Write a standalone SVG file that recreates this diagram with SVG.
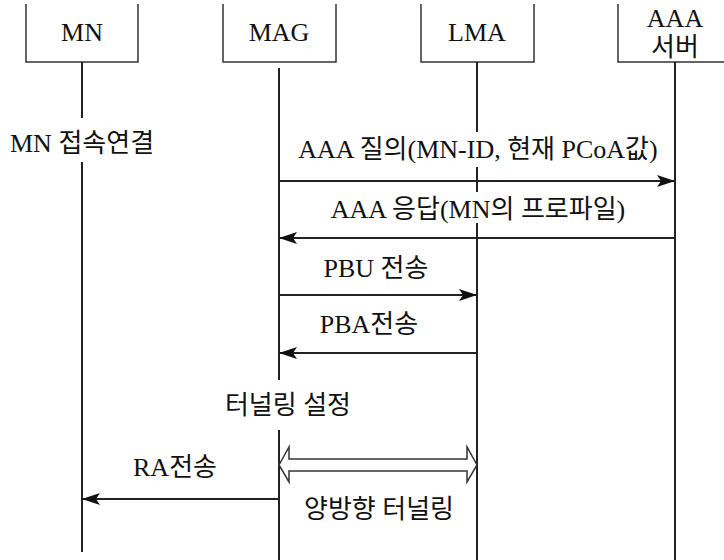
<svg xmlns="http://www.w3.org/2000/svg" width="724" height="560" viewBox="0 0 724 560">
<style>
text{font-family:"Liberation Serif","Noto Sans CJK KR",serif;font-size:26px;fill:#111}
.box{fill:none;stroke:#333;stroke-width:1.5}
.life{stroke:#222;stroke-width:2;fill:none}
.msg{stroke:#222;stroke-width:2;fill:none}
.hollow{fill:#fff;stroke:#333;stroke-width:1.5}
</style>
<defs>
<marker id="ah" viewBox="0 0 18 12" refX="18" refY="6" markerWidth="18" markerHeight="12" markerUnits="userSpaceOnUse" orient="auto">
<path d="M0 0 L18 6 L0 12 L4 6 Z" fill="#111"/>
</marker>
</defs>
<rect width="724" height="560" fill="#fff"/>
<g id="MN">
<path class="box" d="M26 4 V62 H138 V4"/>
<text x="82" y="41" text-anchor="middle" font-size="24">MN</text>
</g>
<g id="MAG">
<path class="box" d="M223 4 V62 H336 V4"/>
<text x="279" y="41" text-anchor="middle" font-size="24">MAG</text>
</g>
<g id="LMA">
<path class="box" d="M421 4 V62 H534 V4"/>
<text x="477" y="41" text-anchor="middle" font-size="24">LMA</text>
</g>
<g id="AAA">
<path class="box" d="M618 4 V62 H724"/>
<text x="675" y="27" text-anchor="middle" font-size="24">AAA</text>
<text x="675" y="56" text-anchor="middle" font-size="23">서버</text>
</g>
<g id="lifelines">
<path class="life" d="M82 62 V118 M82 162 V552"/>
<path class="life" d="M279 68 V380 M279 430 V560"/>
<path class="life" d="M477 62 V132 M477 167 V192 M477 223 V560"/>
<path class="life" d="M675 62 V560"/>
</g>
<g id="connectors">
<line class="msg" x1="279" y1="181" x2="675" y2="181" marker-end="url(#ah)"/>
<line class="msg" x1="675" y1="238" x2="279" y2="238" marker-end="url(#ah)"/>
<line class="msg" x1="279" y1="295" x2="477" y2="295" marker-end="url(#ah)"/>
<line class="msg" x1="477" y1="353" x2="279" y2="353" marker-end="url(#ah)"/>
<line class="msg" x1="279" y1="499" x2="82" y2="499" marker-end="url(#ah)"/>
<path class="hollow" d="M279 465 L289 447 L289 459 L467 459 L467 447 L477 465 L467 482 L467 471 L289 471 L289 482 Z"/>
</g>
<g id="labels">
<text x="10" y="152">MN 접속연결</text>
<text x="478" y="158" text-anchor="middle">AAA 질의(MN-ID, 현재 PCoA값)</text>
<text x="478" y="218" text-anchor="middle">AAA 응답(MN의 프로파일)</text>
<text x="376" y="277" text-anchor="middle">PBU 전송</text>
<text x="369" y="333" text-anchor="middle">PBA전송</text>
<text x="288" y="414" text-anchor="middle">터널링 설정</text>
<text x="175" y="476" text-anchor="middle">RA전송</text>
<text x="379" y="518" text-anchor="middle">양방향 터널링</text>
</g>
</svg>
